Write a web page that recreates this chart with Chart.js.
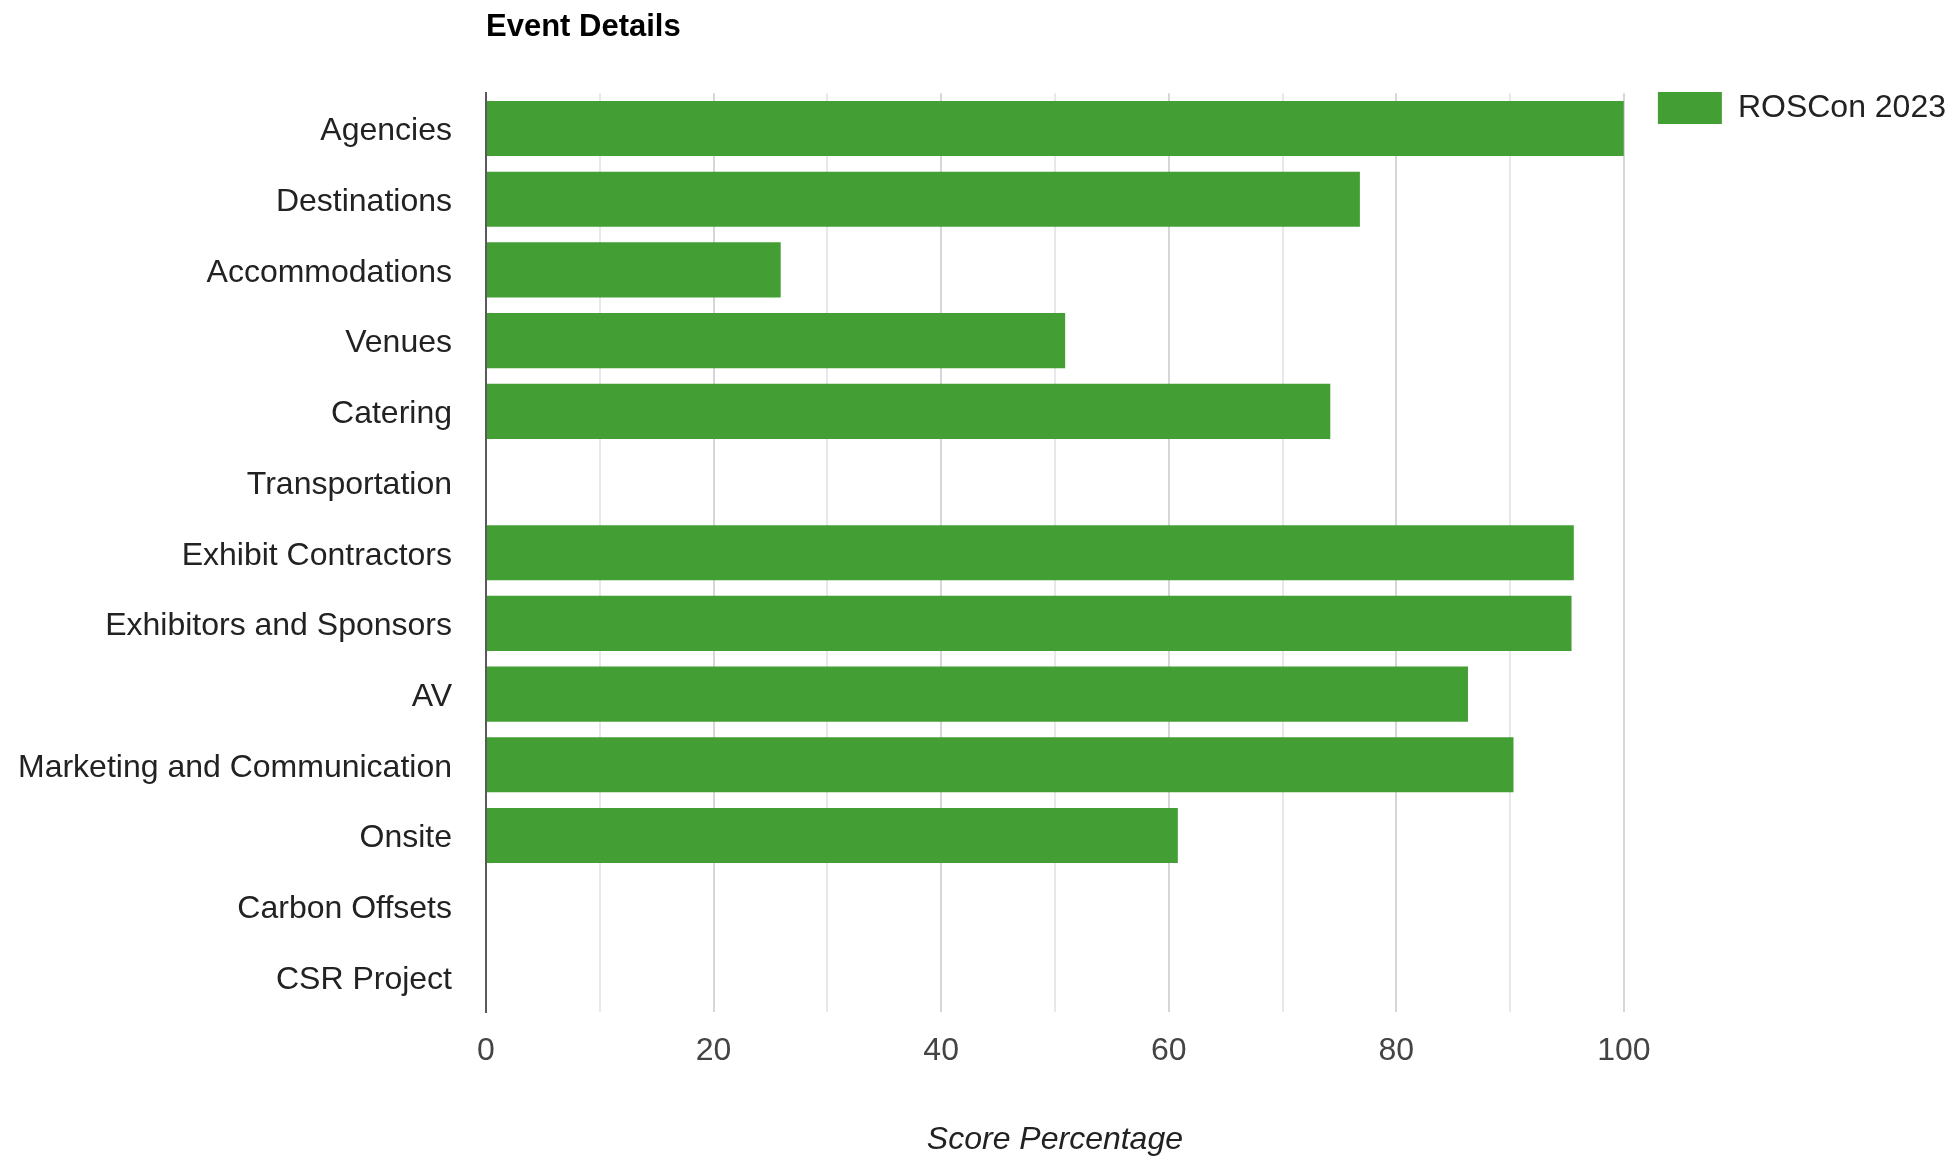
<!DOCTYPE html>
<html>
<head>
<meta charset="utf-8">
<script src="https://cdn.jsdelivr.net/npm/chart.js@4/dist/chart.umd.min.js"></script>
<style>
  html, body { margin: 0; padding: 0; background: #ffffff; }
  #wrap { width: 1952px; height: 1161px; }
</style>
</head>
<body>
<div id="wrap"><canvas id="c" width="1952" height="1161"></canvas></div>
<script>
const categories = [
  'Agencies', 'Destinations', 'Accommodations', 'Venues', 'Catering',
  'Transportation', 'Exhibit Contractors', 'Exhibitors and Sponsors', 'AV',
  'Marketing and Communication', 'Onsite', 'Carbon Offsets', 'CSR Project'
];
const seriesName = 'ROSCon 2023';
const scores = [100, 76.8, 25.9, 50.9, 74.2, 0, 95.6, 95.4, 86.3, 90.3, 60.8, 0, 0];
const xMin = 0;
const xMax = 100;
const xTickStep = 10;
const xLabelStep = 20;
const chartTitle = 'Event Details';
const xAxisTitle = 'Score Percentage';

const barColor = '#439E33';

new Chart(document.getElementById('c'), {
  type: 'bar',
  data: {
    labels: categories,
    datasets: [{
      label: seriesName,
      data: scores,
      backgroundColor: barColor,
      borderWidth: 0,
      categoryPercentage: 0.78,
      barPercentage: 1.0
    }]
  },
  options: {
    indexAxis: 'y',
    responsive: false,
    animation: false,
    devicePixelRatio: 1,
    layout: { padding: { left: 15, right: -4, top: 0, bottom: 0 } },
    plugins: {
      title: {
        display: true,
        text: chartTitle,
        align: 'start',
        fullSize: false,
        color: '#000000',
        font: { family: 'Liberation Sans', size: 31, weight: 'bold' },
        padding: { top: 9, bottom: 47 }
      },
      legend: {
        display: true,
        position: 'right',
        align: 'start',
        fullSize: true,
        title: {
          display: true,
          text: '',
          font: { size: 10 },
          padding: { top: 46, bottom: 0 }
        },
        labels: {
          boxWidth: 64,
          boxHeight: 32,
          padding: 34,
          color: '#222222',
          font: { family: 'Liberation Sans', size: 32 }
        }
      },
      tooltip: { enabled: false }
    },
    scales: {
      x: {
        type: 'linear',
        min: xMin,
        max: xMax,
        ticks: {
          stepSize: xTickStep,
          autoSkip: false,
          maxRotation: 0,
          padding: 20,
          color: '#444444',
          font: { family: 'Liberation Sans', size: 32 },
          callback: (v) => (v % xLabelStep === 0 ? v : '')
        },
        grid: {
          drawTicks: false,
          lineWidth: 2,
          color: (ctx) => (ctx.tick && ctx.tick.value % xLabelStep === 0 ? '#d6d6d6' : '#e8e8e8')
        },
        border: { display: false },
        title: {
          display: true,
          text: xAxisTitle,
          color: '#222222',
          font: { family: 'Liberation Sans', size: 32, style: 'italic' },
          padding: { top: 30, bottom: 2 }
        }
      },
      y: {
        type: 'category',
        offset: true,
        ticks: {
          padding: 3,
          labelOffset: 3,
          color: '#222222',
          font: { family: 'Liberation Sans', size: 32 },
          autoSkip: false
        },
        grid: { display: false, drawTicks: true, tickLength: 31 },
        border: { display: true, color: '#5a5a5a', width: 2 }
      }
    }
  }
});
</script>
</body>
</html>
